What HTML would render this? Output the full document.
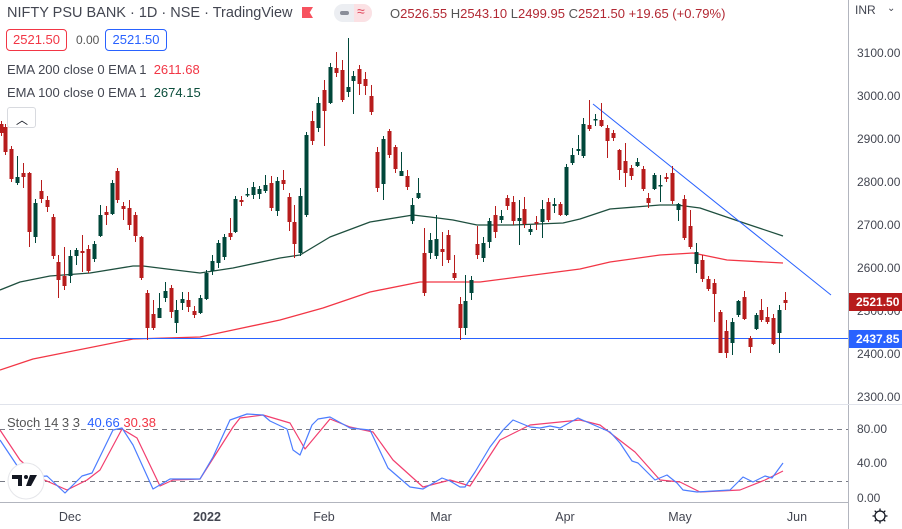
<!DOCTYPE html>
<html><head><meta charset="utf-8">
<style>
html,body{margin:0;padding:0;background:#fff;}
body{width:902px;height:529px;overflow:hidden;position:relative;font-family:"Liberation Sans",sans-serif;}
.t{position:absolute;white-space:nowrap;}
svg{position:absolute;left:0;top:0;}
</style></head><body>
<svg id="s" width="902" height="529" xmlns="http://www.w3.org/2000/svg"></svg>

<div class="t" style="left:7px;top:5px;font-size:14.5px;color:#434651;">NIFTY PSU BANK · 1D · NSE · TradingView</div>
<div class="t" style="left:302px;top:7px;width:11px;height:11px;background:#f7525f;clip-path:polygon(0 0,100% 0,70% 50%,100% 100%,0 100%);"></div>
<div class="t" style="left:334px;top:4px;width:38px;height:18px;border-radius:9px;background:#eceef2;"></div>
<div class="t" style="left:354px;top:4px;width:18px;height:18px;border-radius:0 9px 9px 0;background:#fbe1e4;"></div>
<div class="t" style="left:340px;top:11px;width:9px;height:4px;border-radius:2px;background:#8a8e99;"></div>
<div class="t" style="left:357px;top:3px;font-size:14px;color:#e0475b;">≈</div>
<div class="t" style="left:390px;top:6px;font-size:13px;color:#b22833;"><span style="color:#555">O</span>2526.55 <span style="color:#555">H</span>2543.10 <span style="color:#555">L</span>2499.95 <span style="color:#555">C</span>2521.50 +19.65 (+0.79%)</div>

<div class="t" style="left:6px;top:29px;width:59px;height:20px;border:1px solid #f23645;border-radius:4px;color:#f23645;font-size:13px;line-height:20px;text-align:center;">2521.50</div>
<div class="t" style="left:76px;top:33px;font-size:12px;color:#555;">0.00</div>
<div class="t" style="left:105px;top:29px;width:60px;height:20px;border:1px solid #2962ff;border-radius:4px;color:#2962ff;font-size:13px;line-height:20px;text-align:center;">2521.50</div>
<div class="t" style="left:7px;top:62px;font-size:13px;color:#434651;">EMA 200 close 0 EMA 1 &nbsp;<span style="color:#f23645">2611.68</span></div>
<div class="t" style="left:7px;top:85px;font-size:13px;color:#434651;">EMA 100 close 0 EMA 1 &nbsp;<span style="color:#0b4d3b">2674.15</span></div>
<div class="t" style="left:7px;top:107px;width:27px;height:19px;border:1px solid #d8dadf;border-radius:3px;background:#fff;"></div>
<div class="t" style="left:16px;top:111px;font-size:12px;color:#131722;">︿</div>

<div class="t" style="left:7px;top:415px;font-size:13px;color:#555;">Stoch 14 3 3 &nbsp;<span style="color:#2962ff">40.66</span> <span style="color:#f23645">30.38</span></div>

<div class="t" style="left:855px;top:3px;font-size:12px;color:#434651;">INR</div>
<div class="t" style="left:887px;top:3px;font-size:10px;color:#434651;">⌄</div>

<script>
const s=document.getElementById('s');
let h='';
h+='<line x1="848.5" y1="0" x2="848.5" y2="529" stroke="#b2b5be"/>';
h+='<line x1="0" y1="404.5" x2="902" y2="404.5" stroke="#e0e3eb"/>';
h+='<line x1="0" y1="502.5" x2="848" y2="502.5" stroke="#b2b5be"/>';
h+='<line x1="0" y1="429.5" x2="848" y2="429.5" stroke="#787b86" stroke-dasharray="5,4"/>';
h+='<line x1="0" y1="481.5" x2="848" y2="481.5" stroke="#787b86" stroke-dasharray="5,4"/>';
const pl=[[3100,53],[3000,96],[2900,139],[2800,182],[2700,225],[2600,268],[2500,311],[2400,354],[2300,397]];
pl.forEach(p=>h+=`<text x="857" y="${p[1]+4}" font-size="12" fill="#434651" font-family="Liberation Sans">${p[0]}.00</text>`);
[[80,429],[40,463],[0,498]].forEach(p=>h+=`<text x="${p[0]==0?857:857}" y="${p[1]+4}" font-size="12" fill="#434651" font-family="Liberation Sans">${p[0].toFixed(2)}</text>`);
[['Dec',70],['2022',207],['Feb',324],['Mar',441],['Apr',565],['May',680],['Jun',797]].forEach(d=>h+=`<text x="${d[1]}" y="521" text-anchor="middle" font-size="12.5" ${d[0]=='2022'?'font-weight="bold"':''} fill="#434651" font-family="Liberation Sans">${d[0]}</text>`);
function pth(pts,c,w){return `<polyline points="${pts.map(p=>p.join(',')).join(' ')}" fill="none" stroke="${c}" stroke-width="${w}" stroke-linejoin="round"/>`;}
h+=pth([[0,370],[33,359],[133,339],[200,337],[233,330],[280,320],[323,308],[370,292],[420,282],[480,282],[580,269],[610,262],[660,255],[693,253],[727,260],[783,263]],'#f23645',1.3);
h+=pth([[0,290],[20,282],[50,276],[90,273],[133,266],[143,266],[167,269],[200,273],[233,268],[280,258],[300,255],[330,237],[370,222],[413,215],[430,217],[453,220],[477,225],[513,225],[563,223],[580,219],[610,209],[660,205],[677,205],[700,208],[747,224],[783,236]],'#1f4f3f',1.3);
h+='<line x1="0" y1="338.5" x2="848" y2="338.5" stroke="#2962ff" stroke-width="1"/>';
h+='<line x1="593" y1="104" x2="831" y2="295" stroke="#2962ff" stroke-width="1"/>';
const C=[[1,124,133,'r'],[5,127,152,'r'],[11,149,179,'r'],[17,177,183,'g',156,185],[23,173,177,'r',163,188],[29,173,232,'r',172,247],[35,203,237,'g',199,243],[41,191,199,'r',180,203],[47,200,207,'r',196,212],[53,217,256,'r'],[58,262,280,'r',255,298],[64,276,286,'r',247,290],[70,256,276,'g',250,283],[76,250,256,'g',248,265],[82,251,253,'r',235,272],[88,249,271,'r',245,273],[94,244,259,'g'],[100,215,236,'g',205,237],[106,212,215,'r',206,225],[112,183,214,'g',180,215],[117,171,200,'r',168,203],[123,206,209,'r',202,220],[129,208,225,'r',200,230],[135,215,236,'r',212,242],[141,237,278,'r',236,280],[147,293,328,'r',290,340],[153,314,328,'r',300,330],[159,308,318,'g',293,318],[165,291,298,'g',282,302],[171,288,312,'r',285,318],[176,310,323,'g',300,333],[182,299,303,'g',292,310],[188,300,307,'r',292,312],[194,311,315,'r',306,318],[200,298,313,'g',295,314],[206,273,299,'g',270,300],[212,261,271,'g',255,275],[218,243,263,'g',240,268],[224,237,257,'g',234,260],[230,233,237,'r',218,240],[235,199,232,'g',196,233],[241,200,202,'r',196,206],[247,194,195,'g',188,197],[253,187,195,'g',182,199],[259,189,194,'g',186,199],[265,185,191,'g',175,193],[271,183,208,'r',176,211],[277,181,211,'g',177,216],[283,180,184,'r',170,190],[289,197,222,'r',193,231],[294,222,244,'r',205,258],[300,196,253,'g',188,256],[306,135,215,'g',132,217],[312,121,141,'r',111,145],[318,103,128,'g',97,132],[324,90,111,'r',80,146],[330,67,103,'g',63,104],[336,68,73,'r',52,77],[342,70,100,'r',60,102],[348,87,92,'g',38,97],[353,76,81,'g',71,114],[359,69,84,'r',65,95],[365,79,86,'r',72,95],[371,96,112,'r',85,115],[377,152,188,'r',147,192],[383,139,184,'g',136,200],[389,131,155,'r',129,158],[395,147,169,'r',145,173],[401,171,176,'g',152,176],[407,176,187,'r',170,190],[412,205,221,'g',198,224],[418,193,198,'g',178,199],[424,253,293,'r',228,296],[430,240,253,'g',233,259],[436,239,256,'g',215,259],[442,249,252,'r',232,266],[448,235,260,'r',230,263],[454,273,278,'r',255,280],[460,304,328,'r',297,340],[465,301,328,'g',275,335],[471,280,293,'g',276,300],[477,244,255,'r',226,259],[483,243,258,'g',237,262],[489,221,242,'g',218,248],[495,215,232,'r',206,238],[501,216,220,'g',210,223],[507,198,206,'r',195,210],[513,202,221,'r',196,225],[519,218,221,'g',200,245],[524,209,224,'r',197,228],[530,229,232,'g',225,235],[536,222,223,'r',216,230],[542,209,222,'g',200,238],[548,202,220,'r',198,222],[554,204,206,'g',198,213],[560,204,215,'r',202,216],[566,167,215,'g',164,216],[572,155,163,'g',148,165],[578,149,151,'g',135,155],[583,124,156,'g',118,158],[589,125,129,'r',100,131],[595,119,120,'g',114,126],[601,120,126,'r',103,127],[607,128,141,'r',125,158],[613,133,138,'r',130,141],[619,150,170,'r',149,180],[625,161,173,'r',143,187],[631,168,176,'r',165,180],[637,162,166,'g',158,167],[643,169,189,'r',166,191],[648,198,203,'r',193,208],[654,175,189,'g',173,190],[660,185,186,'g',175,202],[666,177,179,'r',173,182],[672,173,201,'r',166,204],[678,204,210,'g',203,221],[684,199,238,'r',195,240],[690,226,247,'r',210,249],[696,252,264,'g',243,273],[702,260,279,'r',255,282],[708,279,289,'r',276,291],[714,283,294,'r',279,322],[720,312,353,'r',310,353],[726,331,353,'r',320,358],[732,322,343,'g',318,355],[738,301,315,'g',300,317],[744,297,319,'r',291,320],[750,338,347,'r',336,353],[756,315,329,'g',313,330],[761,310,320,'r',299,322],[767,317,322,'r',307,324],[773,318,344,'r',314,345],[779,310,333,'g',305,353],[785,300,303,'r',292,310]];
C.forEach(c=>{const col=c[3]=='r'?'#b71c1c':'#00473a';const hi=c[4]||c[1]-3,lo=c[5]||c[2]+3;
h+=`<line x1="${c[0]+.5}" y1="${hi}" x2="${c[0]+.5}" y2="${lo}" stroke="${col}" stroke-width="1"/>`;
h+=`<rect x="${c[0]-1.5}" y="${c[1]}" width="4" height="${Math.max(c[2]-c[1],1.5)}" fill="${col}"/>`;});
h+=pth([[0,430],[20,460],[40,478],[67,490],[87,480],[100,470],[122,429],[137,438],[160,486],[173,480],[200,479],[233,427],[240,418],[263,415],[290,423],[305,449],[330,419],[350,427],[373,432],[393,460],[423,487],[450,480],[470,486],[500,440],[530,425],[580,420],[600,425],[635,452],[660,480],[680,482],[700,492],[740,490],[765,480],[783,471]],'#f23f6f',1.2);
h+=pth([[0,440],[20,470],[33,477],[47,476],[65,493],[82,476],[92,473],[113,430],[122,428],[133,445],[153,489],[170,479],[200,479],[213,457],[230,420],[247,414],[263,415],[270,421],[287,429],[293,450],[300,455],[312,425],[318,419],[330,417],[350,428],[370,430],[388,468],[410,487],[423,489],[442,478],[450,481],[460,487],[465,487],[475,472],[490,447],[503,430],[513,420],[530,427],[540,428],[550,426],[560,428],[578,418],[587,422],[610,432],[620,443],[632,461],[638,463],[655,480],[667,475],[677,483],[683,490],[697,492],[730,490],[743,477],[753,482],[765,476],[772,478],[783,463]],'#4c7dff',1.2);
h+='<rect x="849" y="293" width="53" height="18" fill="#b71c1c"/><text x="856" y="306" font-size="12" font-weight="bold" fill="#fff" font-family="Liberation Sans">2521.50</text>';
h+='<rect x="849" y="330" width="53" height="18" fill="#2962ff"/><text x="856" y="343" font-size="12" font-weight="bold" fill="#fff" font-family="Liberation Sans">2437.85</text>';
h+='<circle cx="26" cy="481" r="18" fill="#fff" stroke="#e5e6ea"/><path d="M12 475h10v11h-4v-7h-6z" fill="#131722"/><circle cx="26" cy="477" r="2" fill="#131722"/><path d="M30 475h7l-6 11h-5z" fill="#131722"/>';
h+='<circle cx="880" cy="516" r="5" fill="none" stroke="#131722" stroke-width="1.3"/>';
[0,45,90,135,180,225,270,315].forEach(a=>{const r=a*Math.PI/180;h+=`<line x1="${880+5*Math.cos(r)}" y1="${516+5*Math.sin(r)}" x2="${880+7.5*Math.cos(r)}" y2="${516+7.5*Math.sin(r)}" stroke="#131722" stroke-width="1.3"/>`;});
s.innerHTML=h;
</script>
</body></html>
